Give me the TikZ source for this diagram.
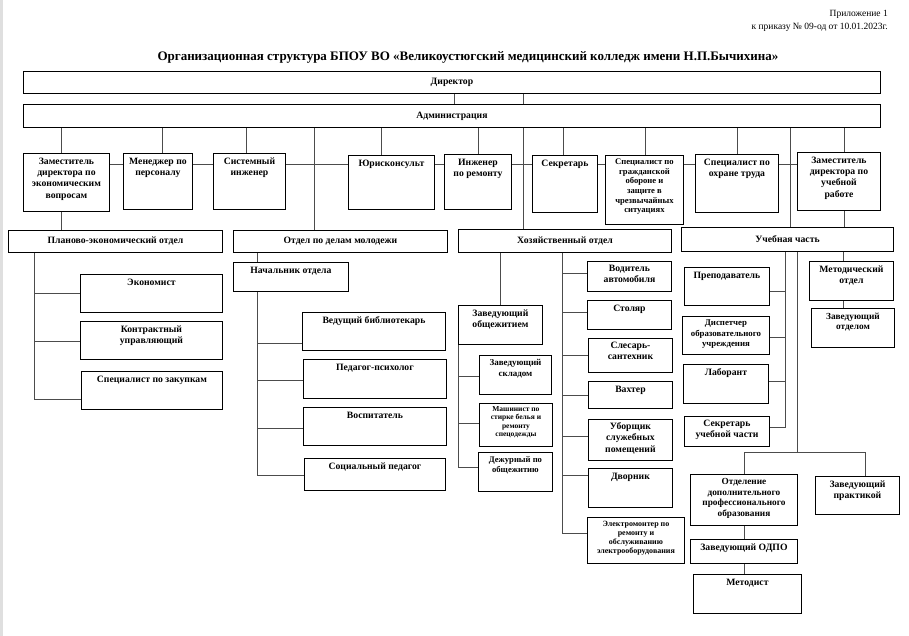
\documentclass[tikz,border=0pt]{standalone}
\usepackage{fontspec}
\setmainfont{Liberation Serif}
\usetikzlibrary{backgrounds}

\tikzset{
  unit/.style={draw, line width=0.9pt, fill=white, anchor=north west, inner sep=0pt},
  bar/.style={unit, font=\bfseries\fontsize{9.7}{11.3}\selectfont},
  txt/.style={anchor=north, align=center, inner xsep=1pt, inner ysep=4.5pt, font=\bfseries\fontsize{9.7}{11.3}\selectfont},
  link/.style={draw=black!70, line width=0.9pt}
}

\begin{document}
\begin{tikzpicture}[x=1pt, y=-1pt]
  \useasboundingbox (0,0) rectangle (909,636);
  \fill[gray!25] (0,0) rectangle (3,636);

  % header
  \node[anchor=north east, align=right, inner sep=0pt, font=\fontsize{9.5}{13.5}\selectfont] (app) at (888,10)
    {Приложение 1\\к приказу № 09-од от 10.01.2023г.};
  \node[font=\bfseries\fontsize{13}{15}\selectfont] (title) at (468,57)
    {Организационная структура БПОУ ВО «Великоустюгский медицинский колледж имени Н.П.Бычихина»};

  % top
  \node[bar, minimum width=857pt, minimum height=22pt] (dir) at (23,71) {Директор};
  \node[bar, minimum width=857pt, minimum height=23pt] (adm) at (23,104) {Администрация};

  \node[unit, minimum width=86pt, minimum height=58pt, label={[txt]north:{Заместитель\\директора по\\экономическим\\вопросам}}] (ze) at (23,153) {};
  \node[unit, minimum width=69pt, minimum height=56pt, label={[txt]north:{Менеджер по\\персоналу}}] (mp) at (123,153) {};
  \node[unit, minimum width=72pt, minimum height=56pt, label={[txt]north:{Системный\\инженер}}] (si) at (213,153) {};
  \node[unit, minimum width=86pt, minimum height=54pt, label={[txt]north:{Юрисконсульт}}] (yu) at (348,155) {};
  \node[unit, minimum width=67pt, minimum height=55pt, label={[txt]north:{Инженер\\по ремонту}}] (ir) at (444,154) {};
  \node[unit, minimum width=65pt, minimum height=57pt, label={[txt]north:{Секретарь}}] (sk) at (532,155) {};
  \node[unit, minimum width=78pt, minimum height=69pt, label={[txt, inner ysep=3.5pt, font=\bfseries\fontsize{8.6}{9.7}\selectfont]north:{Специалист по\\гражданской\\обороне и\\защите в\\чрезвычайных\\ситуациях}}] (go) at (605,155) {};
  \node[unit, minimum width=83pt, minimum height=58pt, label={[txt]north:{Специалист по\\охране труда}}] (ot) at (695,154) {};
  \node[unit, minimum width=83pt, minimum height=58pt, label={[txt]north:{Заместитель\\директора по\\учебной\\работе}}] (zu) at (797,152) {};

  % departments
  \node[bar, minimum width=214pt, minimum height=22pt] (pe) at (8,230) {Планово-экономический отдел};
  \node[bar, minimum width=214pt, minimum height=22pt] (om) at (233,230) {Отдел по делам молодежи};
  \node[bar, minimum width=213pt, minimum height=23pt] (ho) at (458,229) {Хозяйственный отдел};
  \node[bar, minimum width=212pt, minimum height=24pt] (uch) at (681,227) {Учебная часть};

  \node[unit, minimum width=142pt, minimum height=38pt, label={[txt]north:{Экономист}}] (ek) at (80,274) {};
  \node[unit, minimum width=142pt, minimum height=38pt, label={[txt]north:{Контрактный\\управляющий}}] (ku) at (80,321) {};
  \node[unit, minimum width=141pt, minimum height=38pt, label={[txt]north:{Специалист по закупкам}}] (zk) at (81,371) {};

  \node[unit, minimum width=115pt, minimum height=29pt, label={[txt]north:{Начальник отдела}}] (nach) at (233,262) {};
  \node[unit, minimum width=143pt, minimum height=38pt, label={[txt]north:{Ведущий библиотекарь}}] (vb) at (302,312) {};
  \node[unit, minimum width=143pt, minimum height=39pt, label={[txt]north:{Педагог-психолог}}] (pp) at (303,359) {};
  \node[unit, minimum width=143pt, minimum height=38pt, label={[txt]north:{Воспитатель}}] (vo) at (303,407) {};
  \node[unit, minimum width=141pt, minimum height=32pt, label={[txt]north:{Социальный педагог}}] (sp) at (304,458) {};

  \node[unit, minimum width=84pt, minimum height=39pt, label={[txt]north:{Заведующий\\общежитием}}] (zo) at (458,305) {};
  \node[unit, minimum width=72pt, minimum height=39pt, label={[txt, font=\bfseries\fontsize{9}{10.5}\selectfont]north:{Заведующий\\складом}}] (skl) at (479,355) {};
  \node[unit, minimum width=73pt, minimum height=43pt, label={[txt, inner ysep=3pt, font=\bfseries\fontsize{7.5}{8.5}\selectfont]north:{Машинист по\\стирке белья и\\ремонту\\спецодежды}}] (mash) at (479,403) {};
  \node[unit, minimum width=74pt, minimum height=39pt, label={[txt, font=\bfseries\fontsize{8.6}{10}\selectfont]north:{Дежурный по\\общежитию}}] (dezh) at (478,452) {};

  \node[unit, minimum width=84pt, minimum height=30pt, label={[txt, inner ysep=3.5pt]north:{Водитель\\автомобиля}}] (vod) at (587,261) {};
  \node[unit, minimum width=84pt, minimum height=29pt, label={[txt]north:{Столяр}}] (stol) at (587,300) {};
  \node[unit, minimum width=84pt, minimum height=34pt, label={[txt, inner ysep=3.5pt]north:{Слесарь-\\сантехник}}] (sles) at (588,338) {};
  \node[unit, minimum width=84pt, minimum height=27pt, label={[txt]north:{Вахтер}}] (vakh) at (588,381) {};
  \node[unit, minimum width=84pt, minimum height=41pt, label={[txt, inner ysep=3.5pt]north:{Уборщик\\служебных\\помещений}}] (ubor) at (588,419) {};
  \node[unit, minimum width=84pt, minimum height=39pt, label={[txt]north:{Дворник}}] (dvor) at (588,468) {};
  \node[unit, minimum width=97pt, minimum height=46pt, label={[txt, inner ysep=3.5pt, font=\bfseries\fontsize{8}{9}\selectfont]north:{Электромонтер по\\ремонту и\\обслуживанию\\электрооборудования}}] (elek) at (587,517) {};

  \node[unit, minimum width=85pt, minimum height=38pt, label={[txt]north:{Преподаватель}}] (prep) at (684,267) {};
  \node[unit, minimum width=87pt, minimum height=38pt, label={[txt, inner ysep=4pt, font=\bfseries\fontsize{8.8}{10.5}\selectfont]north:{Диспетчер\\образовательного\\учреждения}}] (disp) at (682,316) {};
  \node[unit, minimum width=85pt, minimum height=39pt, label={[txt]north:{Лаборант}}] (lab) at (683,364) {};
  \node[unit, minimum width=85pt, minimum height=30pt, label={[txt, inner ysep=3.5pt]north:{Секретарь\\учебной части}}] (sku) at (684,416) {};
  \node[unit, minimum width=84pt, minimum height=39pt, label={[txt]north:{Методический\\отдел}}] (mo) at (809,261) {};
  \node[unit, minimum width=83pt, minimum height=39pt, label={[txt, font=\bfseries\fontsize{9.3}{10.5}\selectfont]north:{Заведующий\\отделом}}] (zot) at (811,308) {};
  \node[unit, minimum width=107pt, minimum height=51pt, label={[txt, inner ysep=4pt, font=\bfseries\fontsize{9.3}{10.7}\selectfont]north:{Отделение\\дополнительного\\профессионального\\образования}}] (odpo) at (690,474) {};
  \node[unit, minimum width=84pt, minimum height=38pt, label={[txt]north:{Заведующий\\практикой}}] (zp) at (815,476) {};
  \node[unit, minimum width=107pt, minimum height=24pt, label={[txt]north:{Заведующий ОДПО}}] (zodpo) at (690,539) {};
  \node[unit, minimum width=108pt, minimum height=39pt, label={[txt]north:{Методист}}] (met) at (693,574) {};
  \coordinate (br) at ([yshift=22pt]odpo.north);

  \begin{scope}[on background layer]
    % top links
    \draw[link] ([xshift=2.5pt]dir.south) -- ([xshift=2.5pt]dir.south |- adm.north);
    \draw[link] ([xshift=71.5pt]dir.south) -- ([xshift=71.5pt]dir.south |- adm.north);
    \draw[link] ([yshift=-11pt]ze.north east) -- ([yshift=-12pt]zu.north west);
    \foreach \n/\s in {ze/-5, mp/4.5, si/-3, yu/-10, ir/0, sk/-1.5, go/1, ot/0.5, zu/5.5, om/-26, ho/-41.5, uch/3}
      \draw[link] ([xshift=\s pt]\n.north |- adm.south) -- ([xshift=\s pt]\n.north);
    \draw[link] ([xshift=-5pt]ze.south) -- ([xshift=-5pt]ze.south |- pe.north);
    \draw[link] ([xshift=5.5pt]zu.south) -- ([xshift=5.5pt]zu.south |- uch.north);

    % planning
    \foreach \n/\s in {ek/0, ku/-1, zk/-9}
      \draw[link] ([xshift=26pt]pe.south west) |- ([yshift=\s pt]\n.west);

    % youth
    \draw[link] ([xshift=24pt]om.south west) -- ([xshift=24pt]om.south west |- nach.north);
    \foreach \n/\s in {vb/-12, pp/-1.5, vo/-2, sp/-1}
      \draw[link] ([xshift=24pt]nach.south west) |- ([yshift=\s pt]\n.west);

    % household
    \draw[link] (zo.north |- ho.south) -- (zo.north);
    \foreach \n/\s in {skl/-1.5, mash/1.5, dezh/4.5}
      \draw[link] (zo.south west) |- ([yshift=\s pt]\n.west);
    \foreach \n/\s in {vod/3, stol/2.5, sles/0, vakh/0, ubor/3.5, dvor/12.5, elek/7}
      \draw[link] ([xshift=-2.5pt]ho.south) |- ([yshift=\s pt]\n.west);

    % teaching
    \foreach \n/\s in {prep/-5, disp/-2, lab/2.5, sku/4}
      \draw[link] ([xshift=104pt]uch.south west) |- ([yshift=\s pt]\n.east);
    \draw[link] ([xshift=116pt]uch.south west) |- (br);
    \draw[link] (odpo.north) -- (br) -| ([xshift=8pt]zp.north);
    \draw[link] ([xshift=-8pt]mo.north |- uch.south) -- ([xshift=-8pt]mo.north);
    \draw[link] ([xshift=-8pt]mo.south) -- ([xshift=-8pt]mo.south |- zot.north);
    \draw[link] (odpo.south) -- (zodpo.north);
    \draw[link] (zodpo.south) -- (zodpo.south |- met.north);
  \end{scope}
\end{tikzpicture}
\end{document}
